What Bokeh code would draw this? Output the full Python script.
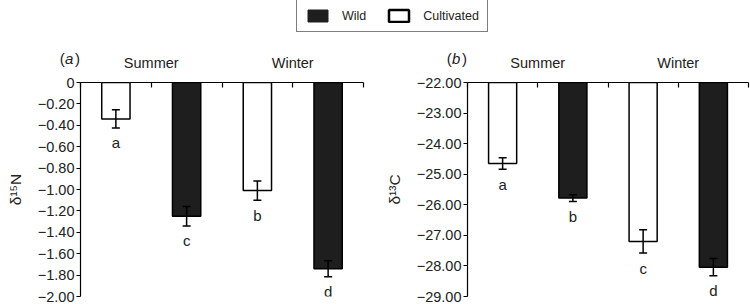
from bokeh.plotting import figure
from bokeh.models import (Range1d, FixedTicker, Legend, LegendItem, Whisker,
                          TeeHead, ColumnDataSource)
from bokeh.layouts import column, row
from bokeh.embed import file_html
from bokeh.resources import INLINE
from bokeh.core.properties import value

# ---------------- data ----------------
seasons = ["Summer", "Winter"]
bar_types = ["Cultivated", "Wild", "Cultivated", "Wild"]

n15_mean = [-0.34, -1.25, -1.01, -1.74]
n15_err = [0.085, 0.09, 0.09, 0.075]
n15_letters = ["a", "c", "b", "d"]
n15_ticks = [0, -0.2, -0.4, -0.6, -0.8, -1.0, -1.2, -1.4, -1.6, -1.8, -2.0]
n15_tick_labels = ["0", "\u22120.20", "\u22120.40", "\u22120.60", "\u22120.80", "\u22121.00",
                   "\u22121.20", "\u22121.40", "\u22121.60", "\u22121.80", "\u22122.00"]

c13_mean = [-24.65, -25.78, -27.20, -28.04]
c13_err = [0.19, 0.11, 0.38, 0.28]
c13_letters = ["a", "b", "c", "d"]
c13_ticks = [-22, -23, -24, -25, -26, -27, -28, -29]
c13_tick_labels = ["\u221222.00", "\u221223.00", "\u221224.00", "\u221225.00",
                   "\u221226.00", "\u221227.00", "\u221228.00", "\u221229.00"]

legend_labels = ["Wild", "Cultivated"]

FONT = "Liberation Sans"
INK = "#222222"
BLACK_FILL = "#1e1e1e"
fill_for = {"Wild": BLACK_FILL, "Cultivated": "white"}

PANEL_W = 375
HEAD_H = 38
PLOT_H = 234


def make_panel(tag, means, errs, letters, ticks, tick_labels, ylabel, bl, br):
    y_top = ticks[0]
    y_bottom = ticks[-1]
    n = len(means)
    xs = [i + 0.5 for i in range(n)]

    # ---- header strip (panel tag + season names), aligned with the plot's x scale
    fw = PANEL_W - bl - br
    h = figure(width=PANEL_W, height=HEAD_H,
               x_range=Range1d(-bl * n / fw, n + br * n / fw), y_range=Range1d(0, 1),
               x_axis_location=None, y_axis_location=None, toolbar_location=None,
               output_backend="svg", min_border=0)
    h.outline_line_color = None
    h.grid.visible = False
    season_x = [(xs[2 * i] + xs[2 * i + 1]) / 2 for i in range(len(seasons))]
    h.text(x=season_x, y=[0] * len(seasons), text=seasons, text_align="center",
           text_baseline="middle", y_offset=-7.5, text_font=value(FONT),
           text_font_size="14.5px", text_color=INK)
    tag_src = ColumnDataSource(dict(x=[0, 0, 0], y=[0, 0, 0], t=["(", tag, ")"],
                                    xo=[-20.7, -15.5, -5.5],
                                    st=["normal", "italic", "normal"]))
    h.text(x="x", y="y", text="t", x_offset="xo", source=tag_src, text_align="left",
           text_baseline="middle", y_offset=-12.5, text_font=value(FONT),
           text_font_style="st", text_font_size="15px", text_color=INK)

    # ---- plot
    p = figure(width=PANEL_W, height=PLOT_H, x_range=Range1d(0, n),
               y_range=Range1d(y_bottom, y_top),
               x_axis_location="above", toolbar_location=None, output_backend="svg",
               min_border_left=bl, min_border_right=br,
               min_border_top=12, min_border_bottom=8)
    p.outline_line_color = None
    p.grid.visible = False

    src = ColumnDataSource(dict(
        x=xs, mean=means, base=[y_top] * n,
        lower=[m - e for m, e in zip(means, errs)],
        upper=[m + e for m, e in zip(means, errs)],
        letter=letters,
        fill=[fill_for[t] for t in bar_types],
    ))
    p.vbar(x="x", width=0.4, top="base", bottom="mean", source=src,
           fill_color="fill", line_color="black", line_width=1.5)
    wh = Whisker(base="x", lower="lower", upper="upper", source=src, dimension="height",
                 line_color="black", line_width=1.5, level="annotation",
                 upper_head=TeeHead(size=8, line_color="black", line_width=1.5),
                 lower_head=TeeHead(size=8, line_color="black", line_width=1.5))
    p.add_layout(wh)
    p.text(x="x", y="lower", text="letter", source=src, text_align="center",
           text_baseline="alphabetic", y_offset=15, text_font=value(FONT),
           text_font_size="15px", text_color=INK)

    # y axis
    ya = p.yaxis[0]
    ya.ticker = FixedTicker(ticks=ticks)
    ya.major_label_overrides = dict(zip(ticks, tick_labels))
    ya.major_tick_out = 4
    ya.major_tick_in = 0
    ya.minor_tick_line_color = None
    ya.axis_line_width = 1.2
    ya.major_tick_line_width = 1.2
    ya.axis_line_color = "black"
    ya.major_tick_line_color = "black"
    ya.major_label_standoff = 2
    ya.major_label_text_font = FONT
    ya.major_label_text_font_size = "14.5px"
    ya.major_label_text_color = INK
    ya.axis_label = ylabel
    ya.axis_label_text_font = FONT
    ya.axis_label_text_font_size = "15.5px"
    ya.axis_label_text_font_style = "normal"
    ya.axis_label_text_color = INK
    ya.axis_label_standoff = 11

    # top axis: line with inward ticks at the bar-slot boundaries, no labels
    xa = p.xaxis[0]
    xa.ticker = FixedTicker(ticks=list(range(n + 1)))
    xa.major_tick_in = 5
    xa.major_tick_out = 0
    xa.minor_tick_line_color = None
    xa.axis_line_width = 1.2
    xa.major_tick_line_width = 1.2
    xa.axis_line_color = "black"
    xa.major_tick_line_color = "black"
    xa.major_label_standoff = 0
    xa.major_label_text_font_size = "1px"
    xa.major_label_text_color = None
    return h, p


ha, pa = make_panel("a", n15_mean, n15_err, n15_letters, n15_ticks, n15_tick_labels,
                    "\u03b4\u00b9\u2075N", 80, 12)
hb, pb = make_panel("b", c13_mean, c13_err, c13_letters, c13_ticks, c13_tick_labels,
                    "\u03b4\u00b9\u00b3C", 92, 2)

# ---------------- legend strip ----------------
lf = figure(width=750, height=32, x_range=Range1d(0, 1), y_range=Range1d(0, 1),
            x_axis_location=None, y_axis_location=None, toolbar_location=None,
            output_backend="svg", min_border=0)
lf.outline_line_color = None
lf.grid.visible = False
nan = float("nan")
src_w = ColumnDataSource(dict(x=[nan], top=[nan]))
src_c = ColumnDataSource(dict(x=[nan], top=[nan]))
r_wild = lf.vbar(x="x", top="top", width=0.1, source=src_w,
                 fill_color=BLACK_FILL, line_color=BLACK_FILL)
r_cult = lf.vbar(x="x", top="top", width=0.1, source=src_c,
                 fill_color="white", line_color="black", line_width=2.5)
legend = Legend(items=[LegendItem(label=legend_labels[0], renderers=[r_wild]),
                       LegendItem(label=legend_labels[1], renderers=[r_cult])],
                orientation="horizontal", location=(296, 0),
                glyph_width=25, glyph_height=15, label_height=15,
                label_standoff=12, spacing=20, padding=8, margin=0,
                border_line_color="black", border_line_width=1,
                background_fill_color="white", background_fill_alpha=1,
                label_text_font=FONT, label_text_font_size="12.5px",
                label_text_color=INK,
                title=" ", title_text_font_size="20px", title_standoff=0)
lf.add_layout(legend)

layout = column(lf, row(ha, hb, spacing=0), row(pa, pb, spacing=0), spacing=0)
open("out.html", "w").write(file_html(layout, INLINE))
